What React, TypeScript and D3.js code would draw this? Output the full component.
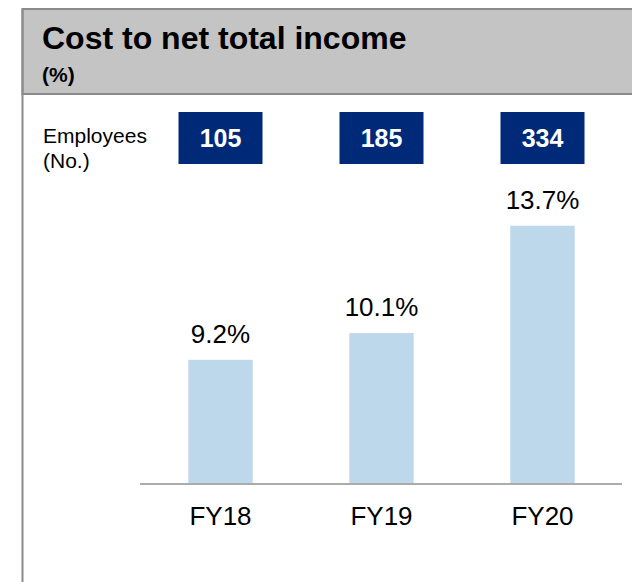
import React from "react";
import * as d3 from "d3";

const categories = ["FY18", "FY19", "FY20"];
const costRatio = [9.2, 10.1, 13.7];
const employees = [105, 185, 334];
const title = "Cost to net total income";
const subtitle = "(%)";
const employeesLabel = ["Employees", "(No.)"];

const W = 632;
const H = 582;
const FONT = "'Liberation Sans', Arial, Helvetica, sans-serif";

export default function App() {
  const baseline = 484;
  const x = d3
    .scaleBand<string>()
    .domain(categories)
    .range([140, 623])
    .paddingInner(0.6)
    .paddingOuter(0.3);
  const y = d3.scaleLinear().domain([5, 15]).range([485, 187]);

  return (
    <svg
      width={W}
      height={H}
      style={{ position: "absolute", left: 0, top: 0, background: "#fff" }}
      fontFamily={FONT}
    >
      <rect x={0} y={0} width={W} height={H} fill="#fff" />
      {/* header band */}
      <rect x={22.5} y={9} width={W + 10} height={85} fill="#c4c4c4" stroke="#8a8a8a" strokeWidth={2} />
      <line x1={22.5} x2={22.5} y1={9} y2={H} stroke="#8a8a8a" strokeWidth={2} />
      <text x={42} y={49} fontSize={32} fontWeight="bold" fill="#000">
        {title}
      </text>
      <text x={42} y={82} fontSize={21} fontWeight="bold" fill="#000">
        {subtitle}
      </text>

      {/* employees row */}
      <text x={43} y={143} fontSize={21} fill="#000">
        {employeesLabel[0]}
      </text>
      <text x={43} y={168} fontSize={21} fill="#000">
        {employeesLabel[1]}
      </text>
      {categories.map((c, i) => {
        const cx = (x(c) ?? 0) + x.bandwidth() / 2;
        return (
          <g key={"emp" + c}>
            <rect x={cx - 42} y={112} width={84} height={52} fill="#002a78" />
            <text x={cx} y={147} textAnchor="middle" fontSize={25} fontWeight="bold" fill="#fff">
              {employees[i]}
            </text>
          </g>
        );
      })}

      {/* bars */}
      {categories.map((c, i) => {
        const v = costRatio[i];
        const bx = x(c) ?? 0;
        const cx = bx + x.bandwidth() / 2;
        return (
          <g key={"bar" + c}>
            <rect x={bx} y={y(v)} width={x.bandwidth()} height={baseline - y(v)} fill="#bed8eb" />
            <text x={cx} y={y(v) - 17} textAnchor="middle" fontSize={26} fill="#000">
              {v.toFixed(1) + "%"}
            </text>
            <text x={cx} y={525} textAnchor="middle" fontSize={26} fill="#000">
              {c}
            </text>
          </g>
        );
      })}
      <line x1={140} x2={622} y1={baseline} y2={baseline} stroke="#ababab" strokeWidth={2} />
    </svg>
  );
}
